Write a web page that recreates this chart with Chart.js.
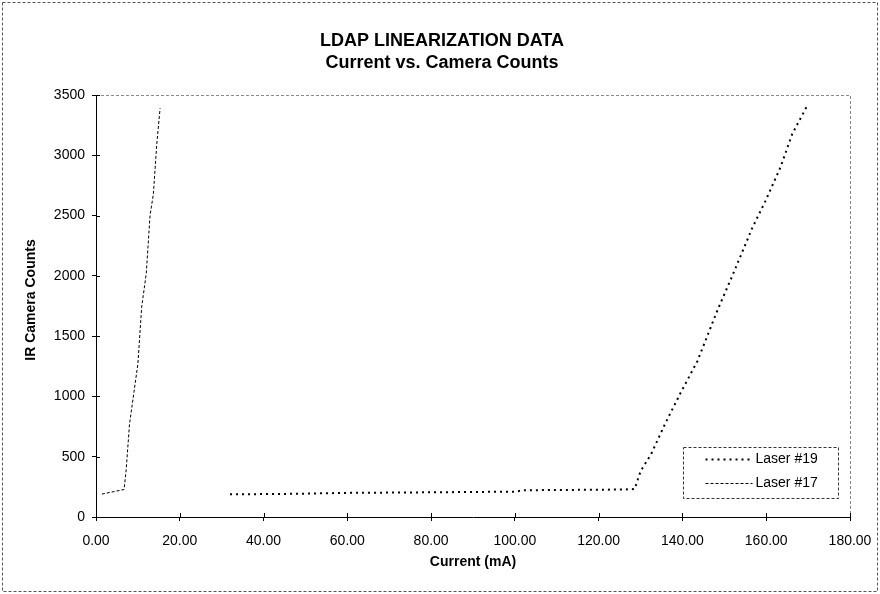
<!DOCTYPE html>
<html>
<head>
<meta charset="utf-8">
<script src="https://cdn.jsdelivr.net/npm/chart.js@4"></script>
<style>
  html, body { margin: 0; padding: 0; background: #fff; }
  #wrap { width: 880px; height: 594px; position: relative; }
</style>
</head>
<body>
<div id="wrap"><canvas id="ldapChart" width="880" height="594"></canvas></div>
<script>
// values
const laser19Current = [32, 47, 60, 80, 100, 102, 115, 126, 128.6, 130, 132.5, 136, 139.6, 143.6, 148.3, 151.9, 156.7, 159.8, 163.4, 166.2, 169.8];
const laser19Counts  = [188, 192, 200, 205, 210, 222, 225, 228, 232, 380, 520, 783, 1032, 1295, 1710, 2000, 2400, 2620, 2900, 3176, 3412];
const laser17Current = [1.4, 6.7, 7.2, 8.0, 8.8, 10.0, 10.9, 12.0, 12.9, 13.7, 14.5, 15.3];
const laser17Counts  = [190, 228, 390, 770, 970, 1270, 1740, 2020, 2500, 2680, 3090, 3390];
const seriesNames = ["Laser #19", "Laser #17"];
const xTicks = [0, 20, 40, 60, 80, 100, 120, 140, 160, 180];
const yTicks = [0, 500, 1000, 1500, 2000, 2500, 3000, 3500];

const font = "'Liberation Sans', Arial, sans-serif";

function toPoints(xs, ys) {
    return xs.map((x, i) => ({ x: x, y: ys[i] }));
}

// title, frame, inner tick marks, legend box
const decorPlugin = {
    id: "decor",
    beforeDraw(chart) {
        const ctx = chart.ctx;
        ctx.save();
        ctx.fillStyle = "#fff";
        ctx.fillRect(0, 0, chart.width, chart.height);
        ctx.strokeStyle = "#555";
        ctx.lineWidth = 1;
        ctx.setLineDash([3, 2]);
        ctx.strokeRect(2.5, 2.5, chart.width - 5, chart.height - 5);
        ctx.restore();
    },
    afterDraw(chart) {
        const ctx = chart.ctx;
        const a = chart.chartArea;
        const xs = chart.scales.x, ys = chart.scales.y;
        ctx.save();
        // plot frame top and right
        ctx.strokeStyle = "#888";
        ctx.lineWidth = 1;
        ctx.setLineDash([3, 2]);
        ctx.beginPath();
        ctx.moveTo(a.left, a.top + 0.5);
        ctx.lineTo(a.right + 0.5, a.top + 0.5);
        ctx.lineTo(a.right + 0.5, a.bottom);
        ctx.stroke();

        // tick marks crossing into the plot
        ctx.setLineDash([]);
        ctx.strokeStyle = "#000";
        ctx.beginPath();
        xTicks.forEach(v => {
            const px = Math.round(xs.getPixelForValue(v)) + 0.5;
            ctx.moveTo(px, a.bottom);
            ctx.lineTo(px, a.bottom - 4);
        });
        yTicks.forEach(v => {
            const py = Math.round(ys.getPixelForValue(v)) + 0.5;
            ctx.moveTo(a.left, py);
            ctx.lineTo(a.left + 4, py);
        });
        ctx.stroke();

        // titles
        ctx.fillStyle = "#000";
        ctx.textAlign = "center";
        ctx.textBaseline = "middle";
        ctx.font = "bold 18px " + font;
        ctx.fillText("LDAP LINEARIZATION DATA", 442, 41);
        ctx.fillText("Current vs. Camera Counts", 442, 63);

        // y axis title
        ctx.save();
        ctx.translate(31, 300);
        ctx.rotate(-Math.PI / 2);
        ctx.font = "bold 14px " + font;
        ctx.fillText("IR Camera Counts", 0, 0);
        ctx.restore();

        // legend box
        const lx = 683.5, ly = 447.5, lw = 155, lh = 51;
        ctx.strokeStyle = "#333";
        ctx.setLineDash([3, 2]);
        ctx.strokeRect(lx, ly, lw, lh);
        chart.data.datasets.forEach((ds, i) => {
            const y = ly + 12 + i * 24;
            ctx.strokeStyle = ds.borderColor;
            ctx.lineWidth = ds.borderWidth;
            ctx.setLineDash(ds.borderDash);
            ctx.beginPath();
            ctx.moveTo(lx + 22, y);
            ctx.lineTo(lx + 69, y);
            ctx.stroke();
            ctx.setLineDash([]);
            ctx.fillStyle = "#000";
            ctx.font = "14px " + font;
            ctx.textAlign = "left";
            ctx.fillText(ds.label, lx + 72, y);
        });
        ctx.restore();
    }
};

new Chart(document.getElementById("ldapChart"), {
    type: "scatter",
    data: {
        datasets: [{
            label: seriesNames[0],
            data: toPoints(laser19Current, laser19Counts),
            showLine: true,
            borderColor: "#000",
            borderWidth: 2,
            borderDash: [2, 4],
            pointRadius: 0,
            tension: 0
        }, {
            label: seriesNames[1],
            data: toPoints(laser17Current, laser17Counts),
            showLine: true,
            borderColor: "#000",
            borderWidth: 1,
            borderDash: [3, 2],
            pointRadius: 0,
            tension: 0
        }]
    },
    options: {
        responsive: false,
        animation: false,
        layout: { padding: { left: 14, right: 30, top: 95, bottom: 0 } },
        plugins: {
            legend: { display: false },
            title: { display: false },
            tooltip: { enabled: false }
        },
        scales: {
            x: {
                type: "linear",
                min: 0,
                max: 180,
                afterBuildTicks: scale => { scale.ticks = xTicks.map(v => ({ value: v })); },
                afterFit: scale => {
                    scale.height = 77;
                    scale.paddingLeft = 0;
                    scale.paddingRight = 0;
                },
                ticks: {
                    color: "#000",
                    font: { family: font, size: 14 },
                    padding: 12,
                    maxRotation: 0,
                    callback: v => v.toFixed(2)
                },
                grid: { drawOnChartArea: false, color: "#000", tickLength: 4 },
                border: { color: "#000", dash: [3, 1] },
                title: {
                    display: true,
                    text: "Current (mA)",
                    color: "#000",
                    font: { family: font, size: 14, weight: "bold" },
                    padding: { top: 0, bottom: 23 }
                }
            },
            y: {
                min: 0,
                max: 3500,
                afterBuildTicks: scale => { scale.ticks = yTicks.map(v => ({ value: v })); },
                afterFit: scale => {
                    scale.width = 82;
                    scale.paddingTop = 0;
                    scale.paddingBottom = 0;
                },
                ticks: {
                    color: "#000",
                    font: { family: font, size: 14 },
                    padding: 7,
                    callback: v => String(v)
                },
                grid: { drawOnChartArea: false, color: "#000", tickLength: 4 },
                border: { color: "#000", dash: [3, 1] },
                title: { display: false }
            }
        }
    },
    plugins: [decorPlugin]
});
</script>
</body>
</html>
